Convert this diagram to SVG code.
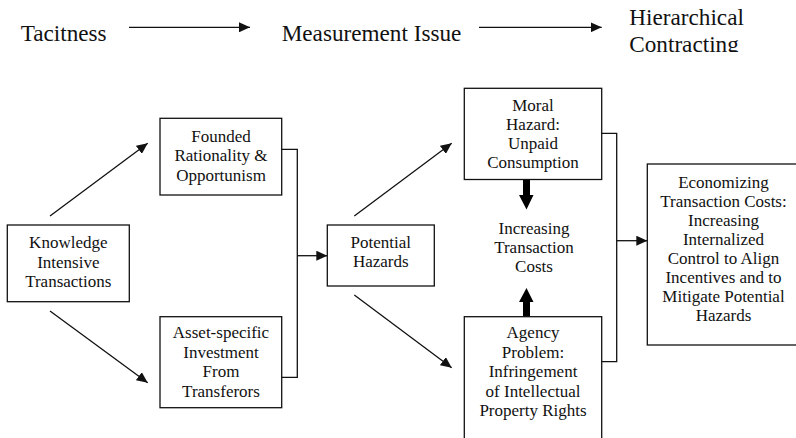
<svg xmlns="http://www.w3.org/2000/svg" width="796" height="438" viewBox="0 0 796 438" font-family="'Liberation Serif', 'DejaVu Serif', serif">
<style>
text{font-family:'Liberation Serif','Times New Roman','DejaVu Serif',serif;fill:#111;}
.t{font-size:17px;text-anchor:middle;}
.h{font-size:23.2px;}
.box{fill:#fff;stroke:#111;stroke-width:1.3;}
.c{fill:none;stroke:#111;stroke-width:1.3;}
.thick{fill:#000;stroke:none;}
</style>
<defs>
<marker id="ah" markerUnits="userSpaceOnUse" markerWidth="12" markerHeight="10" refX="11" refY="5" orient="auto">
<path d="M0,0 L11,5 L0,10 Z" fill="#111"/>
</marker>
<clipPath id="topclip"><rect x="600" y="0" width="196" height="52"/></clipPath>
</defs>

<g id="top-labels">
<text class="h" x="20.7" y="40.7">Tacitness</text>
<text class="h" x="281.7" y="41">Measurement Issue</text>
<g clip-path="url(#topclip)">
<text class="h" x="629.3" y="25">Hierarchical</text>
<text class="h" x="629.3" y="51.7">Contracting</text>
</g>
</g>

<g id="connectors">
<line class="c" x1="129" y1="27.3" x2="250" y2="27.3" marker-end="url(#ah)"/>
<line class="c" x1="479" y1="27.3" x2="601.7" y2="27.3" marker-end="url(#ah)"/>
<line class="c" x1="50" y1="216" x2="147.7" y2="143.3" marker-end="url(#ah)"/>
<line class="c" x1="50" y1="311" x2="147.7" y2="382.7" marker-end="url(#ah)"/>
<polyline class="c" points="281.7,149.3 297.3,149.3 297.3,377.3 281.7,377.3"/>
<line class="c" x1="297.3" y1="255.7" x2="327.3" y2="255.7" marker-end="url(#ah)"/>
<line class="c" x1="354.3" y1="216" x2="451.7" y2="143.3" marker-end="url(#ah)"/>
<line class="c" x1="354.3" y1="295" x2="451.7" y2="367.7" marker-end="url(#ah)"/>
<polyline class="c" points="601.7,133.3 616.7,133.3 616.7,361.7 601.7,361.7"/>
<line class="c" x1="616.7" y1="240.7" x2="647.3" y2="240.7" marker-end="url(#ah)"/>
<polygon class="thick" points="523,179.5 530,179.5 530,195 533.5,195 526.5,209.5 519,195 523,195"/>
<polygon class="thick" points="523,316.7 530,316.7 530,302 533.5,302 526.5,288 519,302 523,302"/>
</g>

<g id="knowledge">
<rect class="box" x="7.3" y="225" width="122" height="76.7"/>
<text class="t" x="68.3" y="248.3">Knowledge</text>
<text class="t" x="68.3" y="267.7">Intensive</text>
<text class="t" x="68.3" y="286.7">Transactions</text>
</g>

<g id="founded">
<rect class="box" x="160" y="118.3" width="121.7" height="76.7"/>
<text class="t" x="221" y="141.7">Founded</text>
<text class="t" x="221" y="161">Rationality &amp;</text>
<text class="t" x="221" y="180.7">Opportunism</text>
</g>

<g id="asset">
<rect class="box" x="160" y="316.7" width="121.7" height="91"/>
<text class="t" x="221" y="338.3">Asset-specific</text>
<text class="t" x="221" y="357.7">Investment</text>
<text class="t" x="221" y="377">From</text>
<text class="t" x="221" y="396.5">Transferors</text>
</g>

<g id="potential">
<rect class="box" x="327.3" y="225" width="107" height="61"/>
<text class="t" x="380.8" y="248.3">Potential</text>
<text class="t" x="380.8" y="267.3">Hazards</text>
</g>

<g id="moral">
<rect class="box" x="464.3" y="88.3" width="137.4" height="91.2"/>
<text class="t" x="533" y="111">Moral</text>
<text class="t" x="533" y="130">Hazard:</text>
<text class="t" x="533" y="149">Unpaid</text>
<text class="t" x="533" y="168.3">Consumption</text>
</g>

<g id="increasing">
<text class="t" x="534" y="234">Increasing</text>
<text class="t" x="534" y="253">Transaction</text>
<text class="t" x="534" y="272">Costs</text>
</g>

<g id="agency">
<rect class="box" x="464.3" y="316.7" width="137.4" height="130"/>
<text class="t" x="533" y="338">Agency</text>
<text class="t" x="533" y="357.5">Problem:</text>
<text class="t" x="533" y="377">Infringement</text>
<text class="t" x="533" y="396.5">of Intellectual</text>
<text class="t" x="533" y="416">Property Rights</text>
</g>

<g id="economizing">
<rect class="box" x="647.3" y="164" width="160" height="181"/>
<text class="t" x="723.5" y="188">Economizing</text>
<text class="t" x="723.5" y="207">Transaction Costs:</text>
<text class="t" x="723.5" y="226">Increasing</text>
<text class="t" x="723.5" y="245">Internalized</text>
<text class="t" x="723.5" y="264">Control to Align</text>
<text class="t" x="723.5" y="283">Incentives and to</text>
<text class="t" x="723.5" y="302">Mitigate Potential</text>
<text class="t" x="723.5" y="321">Hazards</text>
</g>
</svg>
